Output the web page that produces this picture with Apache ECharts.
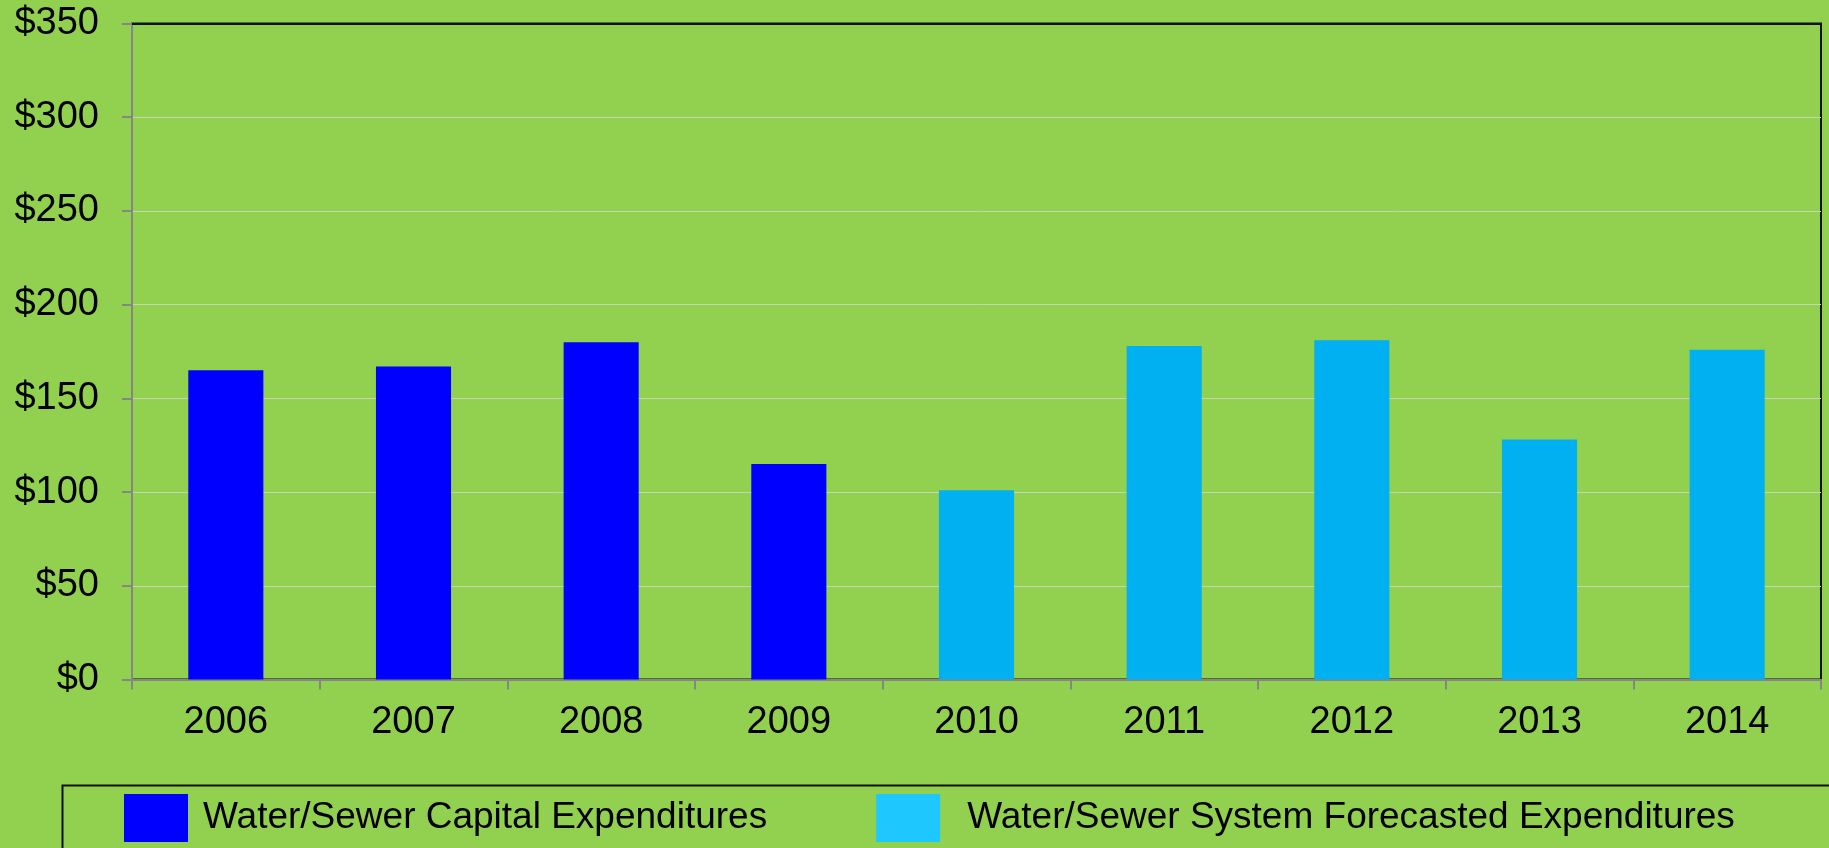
<!DOCTYPE html>
<html>
<head>
<meta charset="utf-8">
<script src="https://cdn.jsdelivr.net/npm/echarts@6/dist/echarts.min.js"></script>
<style>
  html, body { margin: 0; padding: 0; background: #92d050; }
  #chart { width: 1829px; height: 848px; }
</style>
</head>
<body>
<div id="chart"></div>
<script>
const years = ['2006', '2007', '2008', '2009', '2010', '2011', '2012', '2013', '2014']
// $ millions
const capitalSpend = [165, 167, 180, 115, null, null, null, null, null]
const forecastSpend = [null, null, null, null, 101, 178, 181, 128, 176]
const capitalName = 'Water/Sewer Capital Expenditures'
const forecastName = 'Water/Sewer System Forecasted Expenditures'

const font = '"Liberation Sans", Arial, sans-serif'
const axisGray = '#868686'

const chart = echarts.init(document.getElementById('chart'), null, { renderer: 'canvas' })

chart.setOption({
  backgroundColor: '#92d050',
  animation: false,
  textStyle: { fontFamily: font },
  grid: {
    left: 132, right: 8, top: 23.5, bottom: 168.5,
    show: true,
    borderColor: '#111',
    borderWidth: 2,
    backgroundColor: 'transparent',
  },
  // legend frame runs off the bottom/right of the picture
  graphic: [{
    type: 'rect',
    left: 60, top: 783,
    shape: { width: 2000, height: 200 },
    style: { fill: 'none', stroke: '#111', lineWidth: 2 },
    silent: true,
  }],
  legend: {
    left: 60,
    top: 784,
    padding: [10, 0, 0, 64],
    width: 1800,
    itemWidth: 64,
    itemHeight: 48,
    itemGap: 109,
    icon: 'rect',
    textStyle: { fontSize: 37, color: '#000', fontFamily: font, padding: [0, 0, 0, 10] },
    data: [
      { name: capitalName, itemStyle: { color: '#0000ff' } },
      { name: forecastName, itemStyle: { color: '#1ec8ff' },
        textStyle: { padding: [0, 0, 0, 22] } },
    ],
  },
  xAxis: [{
    type: 'category',
    data: years,
    axisLine: { lineStyle: { color: axisGray, width: 2 } },
    axisTick: { show: true, length: 10, lineStyle: { color: axisGray, width: 2 } },
    axisLabel: { fontSize: 38, color: '#000', margin: 24, fontFamily: font },
    splitLine: { show: false },
  }, {
    type: 'category',
    data: years,
    position: 'top',
    axisLine: { lineStyle: { color: '#111', width: 2 } },
    axisTick: { show: false },
    axisLabel: { show: false },
    splitLine: { show: false },
  }],
  yAxis: {
    type: 'value',
    min: 0,
    max: 350,
    interval: 50,
    axisLine: { show: true, lineStyle: { color: axisGray, width: 2 } },
    axisTick: { show: true, length: 10, lineStyle: { color: axisGray, width: 2 } },
    axisLabel: { fontSize: 38, color: '#000', margin: 33, fontFamily: font, formatter: v => '$' + v },
    splitLine: { lineStyle: { color: '#c6d6b4', width: 1 } },
  },
  series: [
    {
      name: capitalName,
      type: 'bar',
      data: capitalSpend,
      barWidth: '40%',
      barGap: '-100%',
      itemStyle: { color: '#0000ff' },
    },
    {
      name: forecastName,
      type: 'bar',
      data: forecastSpend,
      barWidth: '40%',
      itemStyle: { color: '#00b0f0' },
    },
  ],
})
</script>
</body>
</html>
